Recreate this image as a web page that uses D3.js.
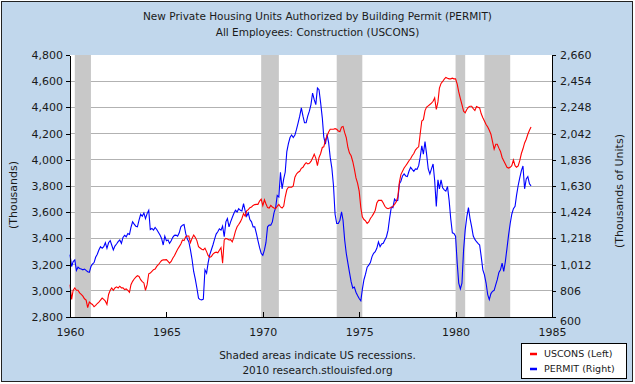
<!DOCTYPE html>
<meta charset="utf-8">
<head>
  <title>PERMIT and USCONS</title>
</head>
<style>
  body { margin: 0; }
  svg text { font-family: "DejaVu Sans", Verdana, sans-serif; fill: #1a1a1a; }
  .axis path, .axis line { fill: none; stroke: #000; shape-rendering: crispEdges; }
  .grid line { stroke: #b2b2b2; shape-rendering: crispEdges; }
  .axis text { font-size: 11px; }
</style>
<body>
<script src="https://cdnjs.cloudflare.com/ajax/libs/d3/7.8.5/d3.min.js"></script>
<script>
// monthly values, Jan 1960 .. Dec 1983, one row per year
var startYear = 1960;

// All Employees: Construction, thousands (left axis)
var uscons = [
  3047, 2934, 3004, 3022, 3004, 3004, 2984, 2972, 2959, 2939, 2929, 2871,
  2914, 2903, 2896, 2878, 2888, 2903, 2914, 2929, 2944, 2934, 2921, 2896,
  2972, 3004, 3022, 3004, 3022, 3030, 3022, 3035, 3022, 3022, 3009, 3014,
  3004, 2989, 3047, 3072, 3090, 3105, 3115, 3110, 3085, 3070, 3060, 3004,
  3047, 3130, 3135, 3148, 3161, 3166, 3186, 3199, 3216, 3231, 3236, 3236,
  3238, 3224, 3211, 3224, 3249, 3267, 3292, 3317, 3337, 3357, 3388, 3383,
  3413, 3418, 3418, 3367, 3400, 3426, 3408, 3383, 3337, 3327, 3317, 3312,
  3325, 3299, 3270, 3255, 3262, 3280, 3290, 3295, 3290, 3310, 3330, 3211,
  3388, 3400, 3395, 3388, 3390, 3373, 3408, 3456, 3489, 3506, 3526, 3552,
  3589, 3569, 3610, 3620, 3635, 3640, 3652, 3658, 3660, 3660, 3685, 3700,
  3650, 3695, 3665, 3635, 3632, 3652, 3640, 3632, 3627, 3645, 3660, 3640,
  3632, 3647, 3716, 3771, 3791, 3791, 3791, 3801, 3867, 3892, 3905, 3912,
  3935, 3943, 3963, 3978, 3968, 3973, 3988, 4013, 4043, 4013, 3955, 4018,
  4048, 4094, 4099, 4149, 4182, 4212, 4233, 4233, 4233, 4238, 4233, 4220,
  4215, 4250, 4255, 4207, 4170, 4094, 4051, 4031, 3987, 3930, 3862, 3822,
  3761, 3635, 3564, 3544, 3534, 3514, 3526, 3552, 3569, 3589, 3615, 3670,
  3690, 3690, 3690, 3670, 3645, 3632, 3627, 3632, 3635, 3645, 3660, 3678,
  3716, 3829, 3887, 3912, 3937, 3955, 3973, 3993, 4008, 4031, 4048, 4074,
  4089, 4099, 4195, 4296, 4306, 4376, 4402, 4412, 4422, 4432, 4447, 4472,
  4384, 4442, 4548, 4583, 4598, 4616, 4629, 4623, 4618, 4618, 4623, 4618,
  4618, 4578, 4518, 4467, 4422, 4371, 4359, 4384, 4402, 4409, 4409, 4391,
  4376, 4407, 4402, 4396, 4351, 4321, 4296, 4270, 4250, 4225, 4195, 4139,
  4081, 4119, 4119, 4089, 4064, 4018, 3993, 3968, 3943, 3937, 3943, 3955,
  3998, 3955, 3943, 3953, 3993, 4048, 4084, 4129, 4157, 4195, 4225, 4250
];

// New Private Housing Units Authorized by Building Permit, thousands of units (right axis)
var permit = [
  1091, 997, 1036, 1049, 966, 992, 982, 977, 971, 977, 966, 956,
  951, 997, 1015, 1028, 1070, 1093, 1127, 1153, 1140, 1153, 1184, 1140,
  1184, 1200, 1166, 1127, 1158, 1174, 1192, 1205, 1179, 1226, 1242, 1231,
  1257, 1249, 1304, 1348, 1330, 1314, 1309, 1361, 1408, 1392, 1418, 1374,
  1413, 1439, 1288, 1296, 1283, 1304, 1288, 1267, 1244, 1218, 1166, 1236,
  1200, 1205, 1179, 1200, 1226, 1242, 1244, 1236, 1262, 1309, 1322, 1327,
  1257, 1213, 1192, 1127, 1054, 958, 899, 828, 748, 737, 735, 740,
  971, 945, 1023, 1088, 1127, 1166, 1210, 1252, 1270, 1293, 1283, 1314,
  1231, 1348, 1374, 1309, 1348, 1382, 1413, 1439, 1426, 1452, 1439, 1434,
  1491, 1434, 1392, 1418, 1366, 1348, 1309, 1309, 1257, 1200, 1145, 1101,
  1085, 1127, 1184, 1309, 1322, 1322, 1348, 1418, 1460, 1556, 1543, 1738,
  1608, 1686, 1738, 1901, 1964, 2011, 2031, 2011, 2031, 2075, 2127, 2179,
  2244, 2179, 2127, 2127, 2179, 2218, 2270, 2361, 2309, 2270, 2400, 2387,
  2283, 2166, 2016, 1959, 2036, 1972, 1855, 1771, 1634, 1408, 1335, 1335,
  1361, 1426, 1361, 1205, 1101, 1023, 951, 878, 828, 836, 795, 769,
  745, 727, 815, 893, 937, 992, 1008, 1028, 1075, 1101, 1114, 1140,
  1190, 1153, 1174, 1179, 1205, 1231, 1283, 1382, 1465, 1460, 1527, 1512,
  1517, 1647, 1668, 1709, 1725, 1709, 1704, 1746, 1777, 1761, 1746, 1764,
  1761, 1790, 1855, 1946, 1881, 1979, 1881, 1764, 1725, 1764, 1803, 1673,
  1470, 1678, 1608, 1678, 1616, 1600, 1590, 1626, 1517, 1374, 1262, 1257,
  1236, 1023, 867, 821, 867, 1127, 1283, 1387, 1460, 1374, 1309, 1236,
  1210, 1192, 1179, 1166, 1075, 971, 932, 867, 776, 737, 784, 802,
  810, 854, 893, 951, 971, 1023, 958, 1036, 1140, 1244, 1335, 1408,
  1452, 1470, 1556, 1634, 1694, 1751, 1787, 1608, 1686, 1704, 1647, 1631
];

// US recessions (start month, end month)
var recessions = [
  ["1960-04", "1961-02"],
  ["1969-12", "1970-11"],
  ["1973-11", "1975-03"],
  ["1980-01", "1980-07"],
  ["1981-07", "1982-11"]
];

var leftTicks = [2800, 3000, 3200, 3400, 3600, 3800, 4000, 4200, 4400, 4600, 4800];
var rightTicks = [600, 806, 1012, 1218, 1424, 1630, 1836, 2042, 2248, 2454, 2660];
var yearTicks = [1960, 1965, 1970, 1975, 1980, 1985];

var titleLines = ["New Private Housing Units Authorized by Building Permit (PERMIT)",
                  "All Employees: Construction (USCONS)"];
var noteLines = ["Shaded areas indicate US recessions.", "2010 research.stlouisfed.org"];
var legendItems = [{name: "USCONS (Left)", color: "#ff0000"},
                   {name: "PERMIT (Right)", color: "#0000ff"}];

var W = 635, H = 384;
var margin = {top: 55, right: 83, bottom: 67, left: 70},
    width = W - margin.left - margin.right,
    height = H - margin.top - margin.bottom;

var parseMonth = d3.timeParse("%Y-%m");
function monthDate(i) { return new Date(startYear, i, 1); }

var x = d3.scaleTime()
    .domain([new Date(1960, 0, 1), new Date(1985, 0, 1)])
    .range([0, width]);
var yLeft = d3.scaleLinear().domain([2800, 4800]).range([height, 0]);
var yRight = d3.scaleLinear().domain([600, 2660]).range([height, 0]);

var svg = d3.select("body").append("svg")
    .attr("width", W)
    .attr("height", H);

// background and outer frame
svg.append("rect")
    .attr("x", 0).attr("y", 0).attr("width", W).attr("height", H)
    .attr("fill", "#fff");
svg.append("rect")
    .attr("x", 1.5).attr("y", 1.5).attr("width", W - 4).attr("height", H - 4)
    .attr("fill", "#c1d7ec")
    .attr("stroke", "#222");

// titles
svg.selectAll(".title")
    .data(titleLines)
  .enter().append("text")
    .attr("class", "title")
    .attr("x", W / 2)
    .attr("y", function(d, i) { return 20 + i * 16; })
    .attr("text-anchor", "middle")
    .style("font-size", "10.5px")
    .text(function(d) { return d; });

var g = svg.append("g")
    .attr("transform", "translate(" + margin.left + "," + margin.top + ")");

g.append("rect")
    .attr("width", width)
    .attr("height", height)
    .attr("fill", "#fff");

// horizontal grid lines at the left ticks
g.append("g")
    .attr("class", "grid")
  .selectAll("line")
    .data(leftTicks.slice(1, -1))
  .enter().append("line")
    .attr("x1", 0)
    .attr("x2", width)
    .attr("y1", function(d) { return yLeft(d); })
    .attr("y2", function(d) { return yLeft(d); });

// recession bars
g.selectAll(".recession")
    .data(recessions)
  .enter().append("rect")
    .attr("class", "recession")
    .attr("x", function(d) { return x(parseMonth(d[0])); })
    .attr("width", function(d) { return x(parseMonth(d[1])) - x(parseMonth(d[0])); })
    .attr("y", 0)
    .attr("height", height)
    .attr("fill", "#c8c8c8");

// series
var lineLeft = d3.line()
    .x(function(d, i) { return x(monthDate(i)); })
    .y(function(d) { return yLeft(d); });
var lineRight = d3.line()
    .x(function(d, i) { return x(monthDate(i)); })
    .y(function(d) { return yRight(d); });

g.append("path")
    .datum(permit)
    .attr("fill", "none")
    .attr("stroke", legendItems[1].color)
    .attr("stroke-width", 1.1)
    .attr("d", lineRight);

g.append("path")
    .datum(uscons)
    .attr("fill", "none")
    .attr("stroke", legendItems[0].color)
    .attr("stroke-width", 1.1)
    .attr("d", lineLeft);

// axes
g.append("g")
    .attr("class", "axis")
    .call(d3.axisLeft(yLeft)
      .tickValues(leftTicks)
      .tickSize(4)
      .tickSizeOuter(0)
      .tickPadding(3)
      .tickFormat(d3.format(",")));

var rightAxis = g.append("g")
    .attr("class", "axis")
    .attr("transform", "translate(" + width + ",0)")
    .call(d3.axisRight(yRight)
      .tickValues(rightTicks)
      .tickSize(4)
      .tickSizeOuter(0)
      .tickPadding(4)
      .tickFormat(d3.format(",")));
// bottom right label sits a little lower in the original
rightAxis.selectAll(".tick text")
    .filter(function(d) { return d === 600; })
    .attr("y", 4);

g.append("g")
    .attr("class", "axis")
    .attr("transform", "translate(0," + height + ")")
    .call(d3.axisBottom(x)
      .tickValues(yearTicks.map(function(y) { return new Date(y, 0, 1); }))
      .tickSize(-5)
      .tickSizeOuter(0)
      .tickPadding(11)
      .tickFormat(d3.timeFormat("%Y")));

// axis titles
svg.append("text")
    .attr("transform", "translate(17," + 195 + ") rotate(-90)")
    .attr("text-anchor", "middle")
    .style("font-size", "11px")
    .text("(Thousands)");

svg.append("text")
    .attr("transform", "translate(623," + 191 + ") rotate(-90)")
    .attr("text-anchor", "middle")
    .style("font-size", "11px")
    .text("(Thousands of Units)");

// notes
svg.selectAll(".note")
    .data(noteLines)
  .enter().append("text")
    .attr("class", "note")
    .attr("x", W / 2)
    .attr("y", function(d, i) { return 359 + i * 15; })
    .attr("text-anchor", "middle")
    .style("font-size", "10.5px")
    .text(function(d) { return d; });

// legend
var legend = svg.append("g")
    .attr("transform", "translate(521,343)");
legend.append("rect")
    .attr("x", 0.5).attr("y", 0.5)
    .attr("width", 105).attr("height", 35)
    .attr("fill", "#fff")
    .attr("stroke", "#000");
var item = legend.selectAll(".item")
    .data(legendItems)
  .enter().append("g")
    .attr("transform", function(d, i) { return "translate(0," + (11 + i * 15) + ")"; });
item.append("line")
    .attr("x1", 9).attr("x2", 16)
    .attr("y1", 0).attr("y2", 0)
    .attr("stroke", function(d) { return d.color; })
    .attr("stroke-width", 2.5);
item.append("text")
    .attr("x", 23)
    .attr("dy", "0.35em")
    .style("font-size", "9.5px")
    .text(function(d) { return d.name; });
</script>
</body>
